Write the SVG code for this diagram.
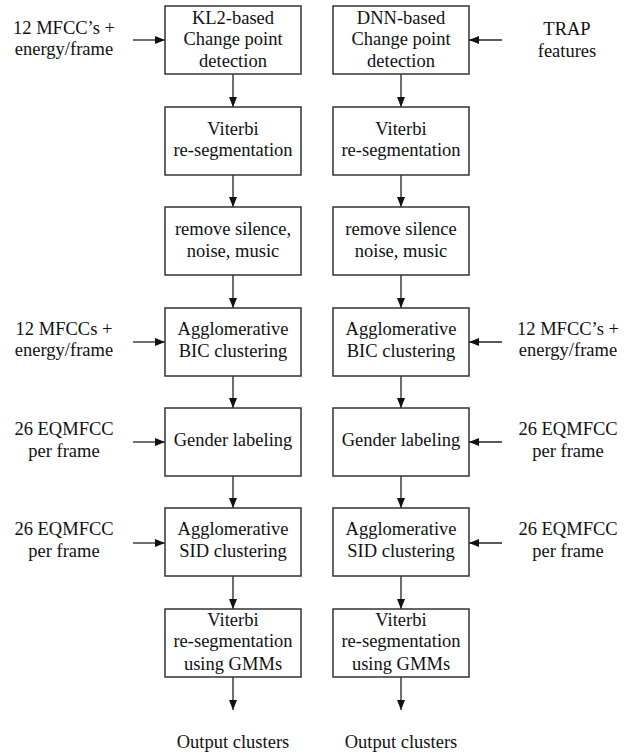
<svg xmlns="http://www.w3.org/2000/svg" width="629" height="753" viewBox="0 0 629 753">
<defs>
<marker id="ah" viewBox="0 0 10 8" refX="10" refY="4" markerWidth="10" markerHeight="8" markerUnits="userSpaceOnUse" orient="auto">
<path d="M0,0 L10,4 L0,8 Z" fill="#111"/>
</marker>
<style>
.box{fill:#fff;stroke:#333;stroke-width:1.5}
.t{font-family:"Liberation Serif","Times New Roman",serif;font-size:18.5px;fill:#111;text-anchor:middle}
.c{stroke:#222;stroke-width:1.3;fill:none;marker-end:url(#ah)}
</style>
</defs>
<rect width="629" height="753" fill="#fff"/>
<g id="connectors">
<line class="c" x1="133" y1="40" x2="165" y2="40"/>
<line class="c" x1="502" y1="40" x2="469" y2="40"/>
<line class="c" x1="233" y1="74" x2="233" y2="107"/>
<line class="c" x1="401" y1="74" x2="401" y2="107"/>
<line class="c" x1="233" y1="175" x2="233" y2="207"/>
<line class="c" x1="401" y1="175" x2="401" y2="207"/>
<line class="c" x1="233" y1="275" x2="233" y2="308"/>
<line class="c" x1="401" y1="275" x2="401" y2="308"/>
<line class="c" x1="133" y1="342" x2="165" y2="342"/>
<line class="c" x1="502" y1="342" x2="469" y2="342"/>
<line class="c" x1="233" y1="376" x2="233" y2="408"/>
<line class="c" x1="401" y1="376" x2="401" y2="408"/>
<line class="c" x1="133" y1="442" x2="165" y2="442"/>
<line class="c" x1="502" y1="442" x2="469" y2="442"/>
<line class="c" x1="233" y1="476" x2="233" y2="508"/>
<line class="c" x1="401" y1="476" x2="401" y2="508"/>
<line class="c" x1="133" y1="543" x2="165" y2="543"/>
<line class="c" x1="502" y1="543" x2="469" y2="543"/>
<line class="c" x1="233" y1="576" x2="233" y2="609"/>
<line class="c" x1="401" y1="576" x2="401" y2="609"/>
<line class="c" x1="233" y1="677" x2="233" y2="710"/>
<line class="c" x1="401" y1="677" x2="401" y2="710"/>
</g>
<g id="in-left-1"><text class="t" x="64" y="34">12 MFCC’s +</text><text class="t" x="64" y="55">energy/frame</text></g>
<g id="in-right-1"><text class="t" x="567" y="35">TRAP</text><text class="t" x="567" y="57">features</text></g>
<g id="in-left-2"><text class="t" x="64" y="335">12 MFCCs +</text><text class="t" x="64" y="356">energy/frame</text></g>
<g id="in-right-2"><text class="t" x="568" y="335">12 MFCC’s +</text><text class="t" x="568" y="356">energy/frame</text></g>
<g id="in-left-3"><text class="t" x="64" y="435">26 EQMFCC</text><text class="t" x="64" y="457">per frame</text></g>
<g id="in-right-3"><text class="t" x="568" y="435">26 EQMFCC</text><text class="t" x="568" y="457">per frame</text></g>
<g id="in-left-4"><text class="t" x="64" y="535">26 EQMFCC</text><text class="t" x="64" y="557">per frame</text></g>
<g id="in-right-4"><text class="t" x="568" y="535">26 EQMFCC</text><text class="t" x="568" y="557">per frame</text></g>
<g id="kl2"><rect class="box" x="165" y="6" width="136" height="68"/><text class="t" x="233" y="24">KL2-based</text><text class="t" x="233" y="45">Change point</text><text class="t" x="233" y="67">detection</text></g>
<g id="dnn"><rect class="box" x="333" y="6" width="136" height="68"/><text class="t" x="401" y="24">DNN-based</text><text class="t" x="401" y="45">Change point</text><text class="t" x="401" y="67">detection</text></g>
<g id="vit-l"><rect class="box" x="165" y="107" width="136" height="68"/><text class="t" x="233" y="135">Viterbi</text><text class="t" x="233" y="156">re-segmentation</text></g>
<g id="vit-r"><rect class="box" x="333" y="107" width="136" height="68"/><text class="t" x="401" y="135">Viterbi</text><text class="t" x="401" y="156">re-segmentation</text></g>
<g id="rm-l"><rect class="box" x="165" y="207" width="136" height="68"/><text class="t" x="233" y="235">remove silence,</text><text class="t" x="233" y="257">noise, music</text></g>
<g id="rm-r"><rect class="box" x="333" y="207" width="136" height="68"/><text class="t" x="401" y="235">remove silence</text><text class="t" x="401" y="257">noise, music</text></g>
<g id="bic-l"><rect class="box" x="165" y="308" width="136" height="68"/><text class="t" x="233" y="335">Agglomerative</text><text class="t" x="233" y="357">BIC clustering</text></g>
<g id="bic-r"><rect class="box" x="333" y="308" width="136" height="68"/><text class="t" x="401" y="335">Agglomerative</text><text class="t" x="401" y="357">BIC clustering</text></g>
<g id="gen-l"><rect class="box" x="165" y="408" width="136" height="68"/><text class="t" x="233" y="446">Gender labeling</text></g>
<g id="gen-r"><rect class="box" x="333" y="408" width="136" height="68"/><text class="t" x="401" y="446">Gender labeling</text></g>
<g id="sid-l"><rect class="box" x="165" y="508" width="136" height="68"/><text class="t" x="233" y="535">Agglomerative</text><text class="t" x="233" y="557">SID clustering</text></g>
<g id="sid-r"><rect class="box" x="333" y="508" width="136" height="68"/><text class="t" x="401" y="535">Agglomerative</text><text class="t" x="401" y="557">SID clustering</text></g>
<g id="gmm-l"><rect class="box" x="165" y="609" width="136" height="68"/><text class="t" x="233" y="626">Viterbi</text><text class="t" x="233" y="647">re-segmentation</text><text class="t" x="233" y="670">using GMMs</text></g>
<g id="gmm-r"><rect class="box" x="333" y="609" width="136" height="68"/><text class="t" x="401" y="626">Viterbi</text><text class="t" x="401" y="647">re-segmentation</text><text class="t" x="401" y="670">using GMMs</text></g>
<g id="out-l"><text class="t" x="233" y="748">Output clusters</text></g>
<g id="out-r"><text class="t" x="401" y="748">Output clusters</text></g>
</svg>
